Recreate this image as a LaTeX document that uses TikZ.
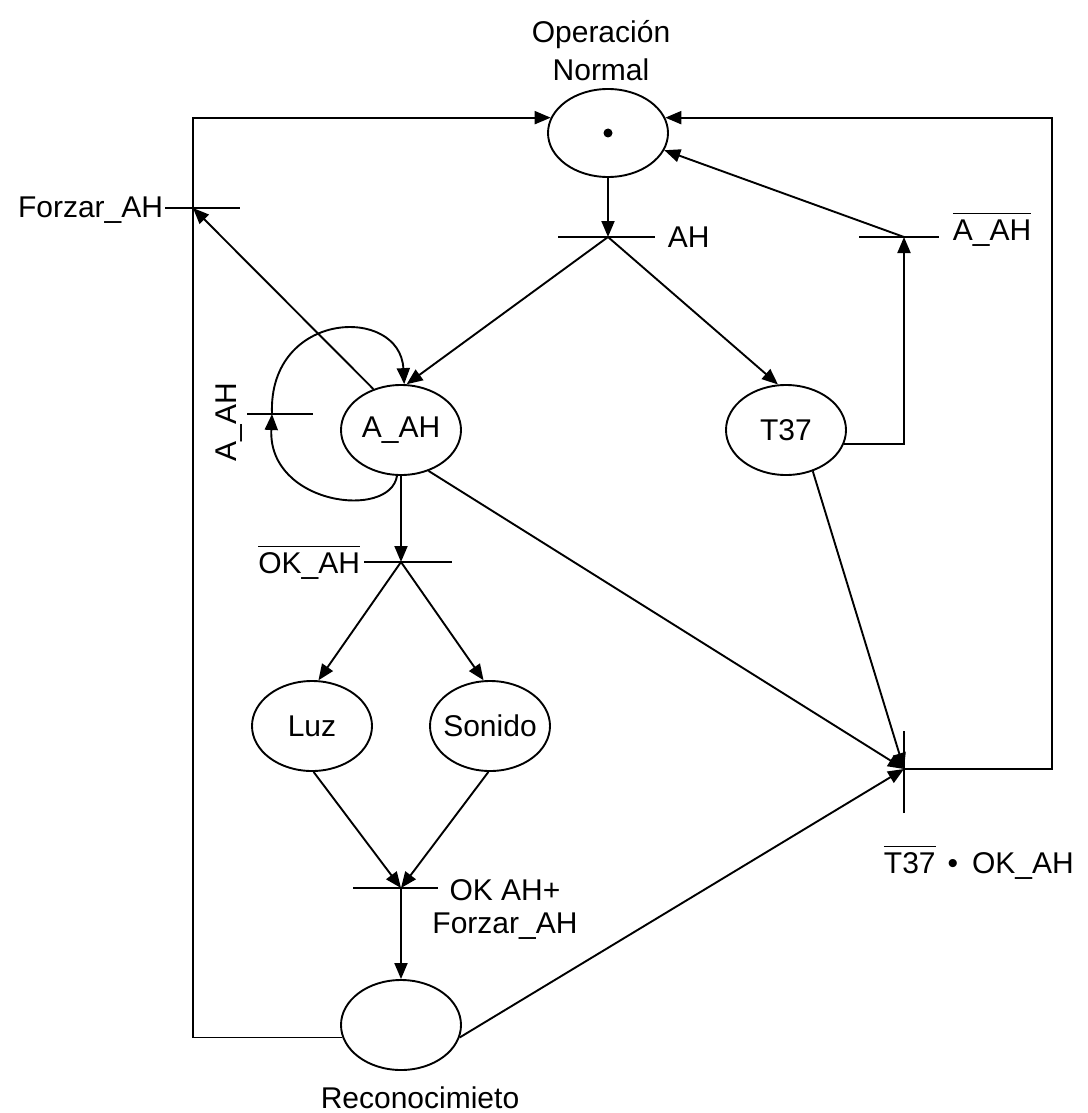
\documentclass[tikz,border=0pt]{standalone}
\usepackage{fontspec}
\setmainfont{Liberation Sans}
\usetikzlibrary{shapes.geometric,arrows.meta}
\newcommand{\ovl}[1]{\ensuremath{\overline{\rule{0pt}{0.84em}\mbox{#1}}}}
\begin{document}
\begin{tikzpicture}[x=1pt,y=-1pt,line width=1.9pt,
  every node/.style={font=\fontsize{30}{38}\selectfont,inner sep=0pt},
  place/.style={draw,ellipse,minimum width=120pt,minimum height=90pt,inner sep=0pt},
  arr/.style={-{Triangle[length=16pt,width=13pt]}},
  bar/.style={line width=2pt}]
\useasboundingbox (0,0) rectangle (1087,1113);
\fill[white] (0,0) rectangle (1087,1113);

% transitions
\coordinate (tAH) at (608,237);
\coordinate (tNA) at (904,237);
\coordinate (tF) at (193,208);
\coordinate (tL) at (272,414);
\coordinate (tNOK) at (401,562);
\coordinate (tOK) at (401,888);
\coordinate (tFin) at (904,769);
\coordinate (rx) at (1052,769);

\draw[bar] ([xshift=-50pt]tAH) -- ([xshift=47pt]tAH);
\draw[bar] ([xshift=-45pt]tNA) -- ([xshift=35pt]tNA);
\draw[bar] ([xshift=-28pt]tF) -- ([xshift=47pt]tF);
\draw[bar] ([xshift=-25pt]tL) -- ([xshift=41pt]tL);
\draw[bar] ([xshift=-37pt]tNOK) -- ([xshift=51pt]tNOK);
\draw[bar] ([xshift=-48pt]tOK) -- ([xshift=37pt]tOK);
\draw[bar] ([yshift=-44pt]tFin) -- ([yshift=38pt]tFin);

% places
\node[place,minimum height=88pt] (OpN) at (608,133) {};
\fill (OpN.center) circle (4.5pt);
\node[place,label=center:A\_AH] (AAH) at (401,430) {};
\node[place,label=center:T37] (T37) at (786,430) {};
\node[place,label=center:Luz] (Luz) at (312,726) {};
\node[place,label=center:Sonido] (Son) at (490,726) {};
\node[place] (Rec) at (401,1025) {};

% labels
\node[align=center] (lOp) at (601,51) {Operación\\Normal};
\node[anchor=base west] (lAH) at (667,247) {AH};
\node[anchor=base west] (lNA) at (952,240) {\ovl{A\_AH}};
\node[anchor=base east] (lF) at (164,217) {Forzar\_AH};
\node[rotate=90,anchor=base] (lL) at (236,422) {A\_AH};
\node[anchor=base east] (lNOK) at (361,573) {\ovl{OK\_AH}};
\node[anchor=base west] (lFin) at (883,873) {\ovl{T37}\hspace{12pt}•\hspace{14pt}OK\_AH};
\node[align=center,font=\fontsize{30}{33}\selectfont] (lOK) at (505,909) {OK AH+\\Forzar\_AH};
\node[anchor=base] (lRec) at (420,1108) {Reconocimieto};

% connectors
\draw[arr] (OpN) -- (tAH);
\draw[arr] (tAH) -- (AAH.83);
\draw[arr] (tAH) -- (T37.100);
\draw[arr] (T37.-14) -| (tNA);
\draw[arr] (tNA) -- (OpN.-17);
\draw[arr] (tFin) -- (tFin -| rx) |- (OpN.15);
\draw[arr] (Rec.192) -- (Rec.192 -| tF) |- (OpN.165);
\draw[arr] (AAH.124) -- (tF);
\draw[arr] (AAH.-95) .. controls (390,520) and (268,505) .. (tL);
\draw[arr] (tL) .. controls (268,310) and (400,305) .. (AAH.86);
\draw[arr] (AAH.south) -- (tNOK);
\draw[arr] (tNOK) -- (Luz.82);
\draw[arr] (tNOK) -- (Son.98);
\draw[arr] (Luz.-88) -- (tOK);
\draw[arr] (Son.-92) -- (tOK);
\draw[arr] (tOK) -- (Rec);
\draw[arr] (AAH.-56) -- (tFin);
\draw[arr] (T37.-57) -- (tFin);
\draw[arr] (Rec.-12) -- (tFin);
\end{tikzpicture}
\end{document}
